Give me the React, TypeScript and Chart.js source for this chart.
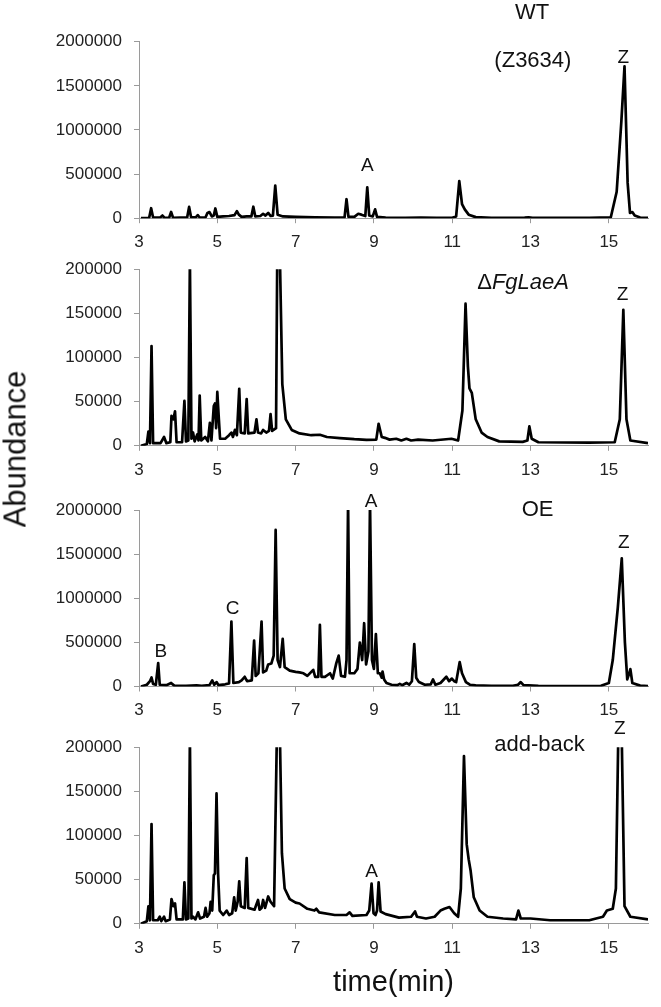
import React, { useEffect, useRef } from 'react';
import { Chart, registerables } from 'chart.js';

Chart.register(...registerables);

const FONT = '"Liberation Sans", Arial, Helvetica, sans-serif';

// ---- tick labels ----
const timeTicks = [3, 5, 7, 9, 11, 13, 15];
const bigTicks = [0, 500000, 1000000, 1500000, 2000000];
const smallTicks = [0, 50000, 100000, 150000, 200000];

// ---- WT (Z3634) ----
const wtTime = [
  3.05, 3.26, 3.31, 3.36, 3.55, 3.6, 3.65, 3.77, 3.82, 3.87,
  4.05, 4.23, 4.28, 4.33, 4.45, 4.5, 4.55, 4.7, 4.75, 4.8,
  4.86, 4.91, 4.95, 5.0, 5.15, 5.3, 5.44, 5.5, 5.55, 5.62,
  5.75, 5.87, 5.92, 5.97, 6.1, 6.17, 6.23, 6.3, 6.36, 6.42,
  6.48, 6.54, 6.68, 7.0, 7.5, 8.0, 8.25, 8.3, 8.35, 8.5,
  8.6, 8.68, 8.78, 8.83, 8.88, 8.97, 9.03, 9.08, 9.3, 9.8,
  10.2, 10.6, 11.0, 11.1, 11.18, 11.25, 11.32, 11.42, 11.6, 12.0,
  12.85, 12.95, 13.05, 14.5, 15.05, 15.2, 15.32, 15.4, 15.48, 15.54,
  15.6, 15.66, 15.8, 16.0,
];
const wtAbund = [
  0, 5000, 113000, 8000, 10000, 30000, 5000, 5000, 71000, 5000,
  8000, 8000, 128000, 10000, 10000, 35000, 8000, 10000, 60000, 70000,
  20000, 30000, 110000, 15000, 20000, 25000, 35000, 80000, 40000, 15000,
  20000, 20000, 130000, 20000, 25000, 50000, 30000, 60000, 25000, 30000,
  370000, 40000, 20000, 15000, 10000, 8000, 10000, 215000, 15000, 15000,
  50000, 40000, 25000, 350000, 30000, 20000, 100000, 15000, 8000, 5000,
  6000, 4000, 5000, 20000, 420000, 160000, 100000, 40000, 12000, 5000,
  6000, 10000, 5000, 4000, 10000, 300000, 1100000, 1720000, 400000, 60000,
  70000, 30000, 8000, 5000,
];

// ---- ΔFgLaeA ----
const koTime = [
  3.05, 3.2, 3.24, 3.28, 3.32, 3.36, 3.55, 3.64, 3.7, 3.8,
  3.83, 3.88, 3.92, 3.96, 4.1, 4.16, 4.2, 4.26, 4.3, 4.34,
  4.38, 4.42, 4.49, 4.52, 4.55, 4.59, 4.69, 4.76, 4.81, 4.85,
  4.91, 4.94, 4.97, 5.0, 5.04, 5.07, 5.2, 5.3, 5.36, 5.4,
  5.45, 5.5, 5.56, 5.6, 5.7, 5.75, 5.79, 5.95, 6.0, 6.04,
  6.12, 6.17, 6.25, 6.32, 6.36, 6.4, 6.5, 6.53, 6.6, 6.66,
  6.75, 6.9, 7.1, 7.4, 7.62, 7.8, 8.13, 8.5, 8.81, 9.06,
  9.12, 9.2, 9.28, 9.4, 9.57, 9.7, 9.83, 9.95, 10.13, 10.5,
  10.98, 11.15, 11.26, 11.34, 11.4, 11.44, 11.5, 11.6, 11.75, 11.9,
  12.2, 12.8, 12.92, 12.97, 13.03, 13.2, 14.5, 15.15, 15.28, 15.37,
  15.45, 15.55, 16.0,
];
const koAbund = [
  0, 2000, 16000, 3000, 113000, 3000, 3000, 10000, 3000, 4000,
  34000, 30000, 39000, 4000, 4000, 51000, 5000, 6000, 210000, 8000,
  15000, 5000, 13000, 6000, 57000, 6000, 10000, 5000, 26000, 6000,
  45000, 48000, 20000, 61000, 30000, 8000, 8000, 12000, 15000, 10000,
  18000, 12000, 64500, 15000, 14000, 53000, 14000, 15000, 30000, 15000,
  14000, 18000, 15000, 17000, 36000, 17000, 20000, 210000, 210000, 70000,
  30000, 18000, 14000, 12000, 12500, 10000, 8700, 7500, 6800, 7000,
  25000, 10000, 9000, 7000, 8000, 6000, 8000, 6000, 7000, 6000,
  8000, 6000, 40000, 161000, 90000, 65000, 60000, 30000, 15000, 10000,
  5000, 4500, 6000, 22000, 8000, 4000, 3500, 4000, 30000, 154000,
  30000, 6000, 3000,
];

// ---- OE ----
const oeTime = [
  3.05, 3.2, 3.28, 3.32, 3.36, 3.43, 3.49, 3.53, 3.7, 3.82,
  3.9, 4.2, 4.47, 4.6, 4.8, 4.87, 4.92, 4.98, 5.03, 5.2,
  5.3, 5.36, 5.41, 5.55, 5.62, 5.7, 5.76, 5.88, 5.94, 5.98,
  6.05, 6.13, 6.17, 6.25, 6.3, 6.38, 6.44, 6.49, 6.54, 6.6,
  6.67, 6.72, 6.85, 7.0, 7.1, 7.2, 7.3, 7.45, 7.5, 7.58,
  7.62, 7.66, 7.75, 7.88, 7.95, 8.04, 8.1, 8.16, 8.26, 8.3,
  8.34, 8.38, 8.5, 8.58, 8.64, 8.7, 8.75, 8.8, 8.86, 8.9,
  8.95, 9.0, 9.05, 9.1, 9.15, 9.2, 9.22, 9.26, 9.32, 9.45,
  9.6, 9.66, 9.72, 9.83, 9.9, 9.97, 10.03, 10.08, 10.15, 10.3,
  10.45, 10.51, 10.57, 10.7, 10.85, 10.92, 10.99, 11.05, 11.1, 11.19,
  11.25, 11.35, 11.45, 11.6, 12.0, 12.55, 12.68, 12.75, 12.82, 13.2,
  14.0, 14.8, 15.0, 15.1, 15.23, 15.33, 15.41, 15.47, 15.52, 15.55,
  15.6, 15.8, 16.0,
];
const oeAbund = [
  0, 20000, 60000, 102000, 30000, 20000, 265000, 20000, 15000, 40000,
  10000, 8000, 12000, 8000, 15000, 70000, 20000, 50000, 15000, 25000,
  35000, 736000, 40000, 50000, 70000, 110000, 60000, 70000, 521000, 120000,
  150000, 736000, 160000, 180000, 250000, 260000, 350000, 1774000, 300000, 220000,
  540000, 220000, 180000, 166000, 160000, 150000, 120000, 189000, 110000, 110000,
  698000, 110000, 110000, 150000, 90000, 265000, 350000, 120000, 110000, 300000,
  2100000, 150000, 150000, 200000, 498000, 300000, 717000, 250000, 400000, 2100000,
  300000, 200000, 593000, 150000, 150000, 100000, 170000, 80000, 40000, 20000,
  15000, 30000, 15000, 40000, 20000, 60000, 480000, 100000, 50000, 20000,
  25000, 80000, 20000, 40000, 110000, 60000, 90000, 60000, 50000, 276000,
  150000, 50000, 20000, 12000, 8000, 8000, 20000, 50000, 15000, 8000,
  5000, 8000, 40000, 300000, 900000, 1453000, 500000, 80000, 150000, 197000,
  40000, 10000, 5000,
];

// ---- add-back ----
const abTime = [
  3.05, 3.2, 3.24, 3.28, 3.32, 3.36, 3.48, 3.53, 3.57, 3.64,
  3.68, 3.79, 3.83, 3.88, 3.92, 3.96, 4.12, 4.16, 4.2, 4.26,
  4.3, 4.34, 4.38, 4.44, 4.51, 4.56, 4.66, 4.7, 4.74, 4.8,
  4.83, 4.87, 4.91, 4.94, 4.98, 5.02, 5.06, 5.15, 5.24, 5.3,
  5.38, 5.43, 5.47, 5.52, 5.56, 5.6, 5.7, 5.75, 5.79, 5.95,
  6.04, 6.08, 6.13, 6.17, 6.22, 6.3, 6.36, 6.45, 6.52, 6.6,
  6.65, 6.72, 6.85, 7.0, 7.1, 7.3, 7.48, 7.53, 7.6, 8.0,
  8.3, 8.38, 8.45, 8.81, 8.88, 8.94, 8.99, 9.04, 9.08, 9.12,
  9.17, 9.3, 9.64, 9.95, 10.05, 10.1, 10.33, 10.55, 10.7, 10.8,
  10.93, 11.05, 11.15, 11.22, 11.3, 11.37, 11.42, 11.47, 11.55, 11.7,
  11.9, 12.3, 12.63, 12.69, 12.75, 13.0, 13.5, 14.5, 14.85, 14.95,
  15.1, 15.18, 15.24, 15.33, 15.4, 15.55, 16.0,
];
const abAbund = [
  0, 3000, 19700, 4000, 113000, 4000, 4000, 8000, 3000, 8000,
  3000, 5000, 28000, 20000, 23000, 5000, 5000, 47000, 5000, 6000,
  210000, 6000, 8000, 5000, 13000, 6000, 8000, 18000, 8000, 12000,
  25000, 15000, 55000, 57000, 147700, 57000, 15000, 10000, 15000, 10000,
  12000, 30000, 15000, 25000, 48000, 20000, 18000, 74500, 18000, 16000,
  27000, 16000, 18000, 27000, 18000, 31000, 25000, 20000, 210000, 210000,
  80000, 40000, 28000, 24000, 23000, 17000, 15000, 17000, 13000, 10000,
  10000, 13000, 9000, 10000, 15000, 45500, 12000, 10000, 15000, 47000,
  14000, 11000, 7000, 8000, 14000, 8000, 6000, 8000, 15000, 17000,
  19000, 12000, 8000, 40000, 190000, 90000, 73000, 60000, 30000, 15000,
  8000, 6000, 5000, 15000, 6000, 6000, 4000, 4000, 8000, 15000,
  17000, 40000, 210000, 210000, 20000, 8000, 5000,
];

// ---- peak and panel labels (data coordinates) ----
type PeakLabel = { text: string; italic?: string; t: number; v: number; size: number };
const wtLabels: PeakLabel[] = [
  { text: 'WT', t: 13.04, v: 2326000, size: 22 },
  { text: '(Z3634)', t: 13.06, v: 1782000, size: 22 },
  { text: 'Z', t: 15.37, v: 1817000, size: 19 },
  { text: 'A', t: 8.83, v: 593000, size: 19 },
];
const koLabels: PeakLabel[] = [
  { text: '\u0394', italic: 'FgLaeA', t: 12.81, v: 184700, size: 22 },
  { text: 'Z', t: 15.35, v: 171000, size: 19 },
];
const oeLabels: PeakLabel[] = [
  { text: 'OE', t: 13.18, v: 2000000, size: 22 },
  { text: 'A', t: 8.93, v: 2090000, size: 19 },
  { text: 'Z', t: 15.38, v: 1626000, size: 19 },
  { text: 'C', t: 5.39, v: 878000, size: 19 },
  { text: 'B', t: 3.56, v: 391000, size: 19 },
];
const abLabels: PeakLabel[] = [
  { text: 'add-back', t: 13.23, v: 202600, size: 22 },
  { text: 'Z', t: 15.28, v: 220800, size: 19 },
  { text: 'A', t: 8.94, v: 58600, size: 19 },
];

const labelPlugin = (labels: PeakLabel[]) => ({
  id: 'peakLabels',
  afterDatasetsDraw(chart: any) {
    const { ctx, scales } = chart;
    ctx.save();
    ctx.fillStyle = '#111';
    ctx.textBaseline = 'middle';
    ctx.textAlign = 'left';
    labels.forEach((l) => {
      const px = scales.x.getPixelForValue(l.t);
      const py = scales.y.getPixelForValue(l.v);
      ctx.font = `${l.size}px ${FONT}`;
      const w1 = ctx.measureText(l.text).width;
      let w2 = 0;
      if (l.italic) {
        ctx.font = `italic ${l.size}px ${FONT}`;
        w2 = ctx.measureText(l.italic).width;
      }
      const x0 = px - (w1 + w2) / 2;
      ctx.font = `${l.size}px ${FONT}`;
      ctx.fillText(l.text, x0, py);
      if (l.italic) {
        ctx.font = `italic ${l.size}px ${FONT}`;
        ctx.fillText(l.italic, x0 + w1, py);
      }
    });
    ctx.restore();
  },
});

const AXIS_GRAY = '#9a9a9a';
const PLOT_H = 176.5;

type PanelProps = {
  plotTop: number;
  time: number[];
  abund: number[];
  yMax: number;
  yTicks: number[];
  labels: PeakLabel[];
  xTitle?: string;
};

function Panel({ plotTop, time, abund, yMax, yTicks, labels, xTitle }: PanelProps) {
  const ref = useRef<HTMLCanvasElement>(null);
  const canvasTop = Math.floor(plotTop) - 42;
  const padTop = plotTop - canvasTop;
  const xAxisH = xTitle ? 77 : 34;
  const canvasH = xTitle ? 300 : 260;
  const padBottom = canvasH - padTop - PLOT_H - xAxisH;

  useEffect(() => {
    const chart = new Chart(ref.current as HTMLCanvasElement, {
      type: 'line',
      data: {
        datasets: [
          {
            data: time.map((t, i) => ({ x: t, y: abund[i] })),
            borderColor: '#000',
            borderWidth: 2.7,
            pointRadius: 0,
            tension: 0,
            borderJoinStyle: 'round',
            fill: false,
            clip: 0,
          } as any,
        ],
      },
      options: {
        responsive: false,
        animation: false,
        events: [],
        layout: { padding: { top: padTop, bottom: padBottom, left: 0, right: 13 } },
        plugins: { legend: { display: false }, tooltip: { enabled: false } },
        scales: {
          x: {
            type: 'linear',
            min: 3,
            max: 16,
            afterBuildTicks: (s: any) => {
              s.ticks = timeTicks.map((v) => ({ value: v }));
            },
            afterFit: (s: any) => {
              s.height = xAxisH;
            },
            grid: { drawOnChartArea: false, color: AXIS_GRAY, tickLength: 5 },
            border: { color: AXIS_GRAY, width: 1 },
            ticks: {
              font: { family: FONT, size: 17 },
              color: '#222',
              padding: 9,
              maxRotation: 0,
              autoSkip: false,
              callback: (v: any) => String(v),
            },
            title: xTitle
              ? { display: true, text: xTitle, color: '#111', font: { family: FONT, size: 29 }, padding: 0 }
              : { display: false },
          },
          y: {
            type: 'linear',
            min: 0,
            max: yMax,
            afterBuildTicks: (s: any) => {
              s.ticks = yTicks.map((v) => ({ value: v }));
            },
            afterFit: (s: any) => {
              s.width = 139;
            },
            grid: { drawOnChartArea: false, color: AXIS_GRAY, tickLength: 5 },
            border: { color: AXIS_GRAY, width: 1 },
            ticks: {
              font: { family: FONT, size: 17 },
              color: '#222',
              padding: 12,
              callback: (v: any) => String(v),
            },
          },
        },
      },
      plugins: [labelPlugin(labels)],
    });
    return () => chart.destroy();
  }, []);

  return (
    <canvas
      ref={ref}
      width={661}
      height={canvasH}
      style={{ position: 'absolute', left: 0, top: canvasTop, width: 661, height: canvasH }}
    />
  );
}

export default function App() {
  return (
    <div
      style={{
        position: 'absolute',
        left: 0,
        top: 0,
        width: 661,
        height: 1007,
        background: '#fff',
        overflow: 'hidden',
      }}
    >
      <Panel plotTop={41.7} time={wtTime} abund={wtAbund} yMax={2000000} yTicks={bigTicks} labels={wtLabels} />
      <Panel plotTop={269.3} time={koTime} abund={koAbund} yMax={200000} yTicks={smallTicks} labels={koLabels} />
      <Panel plotTop={510} time={oeTime} abund={oeAbund} yMax={2000000} yTicks={bigTicks} labels={oeLabels} />
      <Panel
        plotTop={747.3}
        time={abTime}
        abund={abAbund}
        yMax={200000}
        yTicks={smallTicks}
        labels={abLabels}
        xTitle="time(min)"
      />
      <div
        style={{
          position: 'absolute',
          left: 15,
          top: 449,
          transform: 'translate(-50%, -50%) rotate(-90deg)',
          font: `31px ${FONT}`,
          color: '#111',
          whiteSpace: 'nowrap',
          lineHeight: 1,
        }}
      >
        Abundance
      </div>
    </div>
  );
}
